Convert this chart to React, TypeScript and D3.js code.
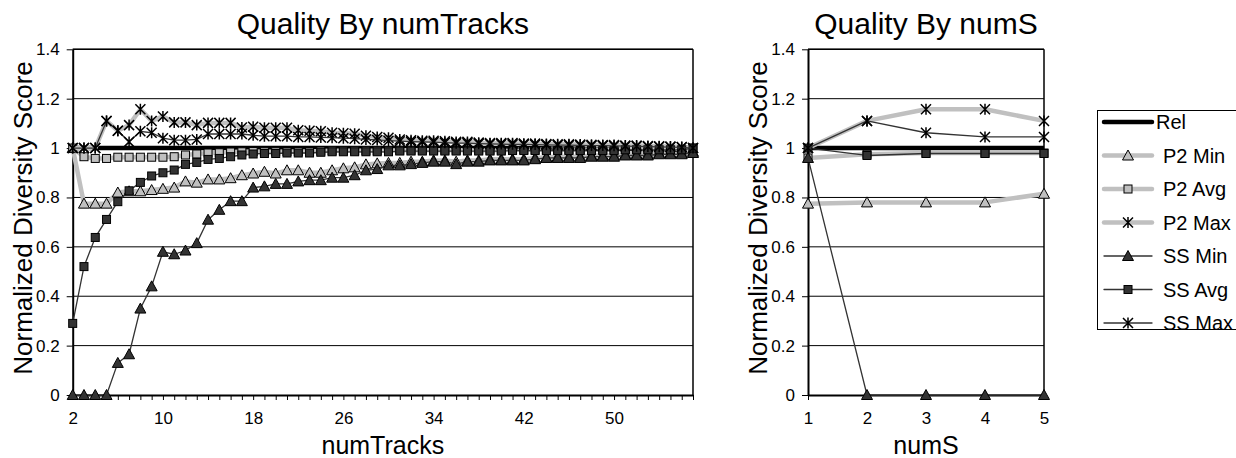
import React, { useEffect, useRef } from 'react';
import * as d3 from 'd3';

// ---- data: left panel (by numTracks) ----
const numTracks = [2, 3, 4, 5, 6, 7, 8, 9, 10, 11, 12, 13, 14, 15, 16, 17, 18, 19, 20, 21, 22, 23, 24, 25, 26, 27, 28, 29,
  30, 31, 32, 33, 34, 35, 36, 37, 38, 39, 40, 41, 42, 43, 44, 45, 46, 47, 48, 49, 50, 51, 52, 53, 54, 55, 56, 57];
const trackTickLabels = [2, 10, 18, 26, 34, 42, 50];

const relTracks = [1, 1, 1, 1, 1, 1, 1, 1, 1, 1, 1, 1, 1, 1, 1, 1, 1, 1, 1, 1, 1, 1, 1, 1, 1, 1, 1, 1,
  1, 1, 1, 1, 1, 1, 1, 1, 1, 1, 1, 1, 1, 1, 1, 1, 1, 1, 1, 1, 1, 1, 1, 1, 1, 1, 1, 1];
const p2MinTracks = [1.0, 0.775, 0.775, 0.775, 0.82, 0.825, 0.825, 0.83, 0.835, 0.84, 0.865, 0.86, 0.873, 0.873,
  0.878, 0.89, 0.897, 0.904, 0.897, 0.91, 0.91, 0.9, 0.9, 0.91, 0.918, 0.922, 0.934, 0.938, 0.94, 0.94, 0.945,
  0.945, 0.95, 0.95, 0.945, 0.95, 0.95, 0.955, 0.955, 0.955, 0.955, 0.96, 0.963, 0.965, 0.965, 0.965, 0.97, 0.97,
  0.97, 0.975, 0.975, 0.975, 0.98, 0.98, 0.98, 0.985];
const p2AvgTracks = [1.0, 0.965, 0.958, 0.958, 0.963, 0.963, 0.963, 0.963, 0.963, 0.965, 0.972, 0.976, 0.98, 0.981,
  0.984, 0.985, 0.986, 0.985, 0.985, 0.986, 0.986, 0.986, 0.988, 0.989, 0.989, 0.989, 0.989, 0.989, 0.989, 0.991,
  0.991, 0.991, 0.991, 0.991, 0.991, 0.991, 0.991, 0.991, 0.991, 0.993, 0.993, 0.993, 0.993, 0.993, 0.993, 0.993,
  0.993, 0.993, 0.993, 0.995, 0.995, 0.995, 0.995, 0.995, 0.995, 1.0];
const p2MaxTracks = [1, 1, 1, 1.11, 1.07, 1.093, 1.157, 1.11, 1.128, 1.104, 1.104, 1.093, 1.102, 1.102, 1.102, 1.083,
  1.086, 1.082, 1.082, 1.082, 1.072, 1.07, 1.068, 1.062, 1.06, 1.058, 1.05, 1.045, 1.042, 1.035, 1.032, 1.03, 1.03,
  1.028, 1.025, 1.025, 1.022, 1.02, 1.02, 1.02, 1.018, 1.018, 1.016, 1.015, 1.015, 1.014, 1.013, 1.012, 1.012, 1.01,
  1.01, 1.008, 1.007, 1.006, 1.004, 1.0];
const ssMinTracks = [0, 0, 0, 0, 0.13, 0.165, 0.35, 0.44, 0.58, 0.57, 0.585, 0.615, 0.71, 0.75, 0.785, 0.785, 0.84,
  0.845, 0.855, 0.855, 0.865, 0.87, 0.87, 0.88, 0.88, 0.89, 0.91, 0.915, 0.93, 0.93, 0.935, 0.94, 0.945, 0.945,
  0.935, 0.945, 0.945, 0.95, 0.95, 0.95, 0.95, 0.955, 0.96, 0.96, 0.96, 0.96, 0.965, 0.965, 0.965, 0.97, 0.97,
  0.97, 0.975, 0.975, 0.975, 0.98];
const ssAvgTracks = [0.29, 0.52, 0.638, 0.711, 0.783, 0.827, 0.861, 0.887, 0.9, 0.911, 0.934, 0.942, 0.954, 0.958,
  0.965, 0.972, 0.976, 0.978, 0.978, 0.98, 0.98, 0.98, 0.983, 0.985, 0.985, 0.985, 0.985, 0.985, 0.985, 0.988,
  0.988, 0.988, 0.988, 0.988, 0.988, 0.988, 0.988, 0.988, 0.988, 0.99, 0.99, 0.99, 0.99, 0.99, 0.99, 0.99, 0.99,
  0.99, 0.99, 0.993, 0.993, 0.993, 0.993, 0.993, 0.993, 1.0];
const ssMaxTracks = [1, 1, 1, 1.11, 1.07, 1.025, 1.068, 1.062, 1.04, 1.032, 1.032, 1.035, 1.057, 1.057, 1.057, 1.057,
  1.052, 1.048, 1.048, 1.048, 1.045, 1.045, 1.043, 1.042, 1.04, 1.038, 1.035, 1.033, 1.03, 1.028, 1.026, 1.025,
  1.024, 1.022, 1.02, 1.02, 1.018, 1.017, 1.016, 1.015, 1.015, 1.014, 1.013, 1.012, 1.012, 1.011, 1.01, 1.01,
  1.009, 1.008, 1.007, 1.006, 1.005, 1.004, 1.003, 1.0];

// ---- data: right panel (by numS) ----
const numS = [1, 2, 3, 4, 5];
const relS = [1, 1, 1, 1, 1];
const p2MinS = [0.775, 0.78, 0.78, 0.78, 0.815];
const p2AvgS = [0.96, 0.975, 0.98, 0.98, 0.98];
const p2MaxS = [1.0, 1.11, 1.157, 1.157, 1.11];
const ssMinS = [0.96, 0, 0, 0, 0];
const ssAvgS = [1.0, 0.97, 0.978, 0.978, 0.978];
const ssMaxS = [1.0, 1.11, 1.062, 1.045, 1.045];

const seriesNames = ['Rel', 'P2 Min', 'P2 Avg', 'P2 Max', 'SS Min', 'SS Avg', 'SS Max'];
const yTicks = [0, 0.2, 0.4, 0.6, 0.8, 1, 1.2, 1.4];
const yTickLabels = ['0', '0.2', '0.4', '0.6', '0.8', '1', '1.2', '1.4'];

type Marker = 'none' | 'triangle' | 'square' | 'star';
const styles: Record<string, { stroke: string; width: number; marker: Marker; fill: string }> = {
  'Rel': { stroke: '#000', width: 4.5, marker: 'none', fill: 'none' },
  'P2 Min': { stroke: '#c0c0c0', width: 4.5, marker: 'triangle', fill: '#c0c0c0' },
  'P2 Avg': { stroke: '#c0c0c0', width: 4.5, marker: 'square', fill: '#c0c0c0' },
  'P2 Max': { stroke: '#c0c0c0', width: 4.5, marker: 'star', fill: 'none' },
  'SS Min': { stroke: '#333', width: 1.3, marker: 'triangle', fill: '#333' },
  'SS Avg': { stroke: '#333', width: 1.3, marker: 'square', fill: '#333' },
  'SS Max': { stroke: '#333', width: 1.3, marker: 'star', fill: 'none' },
};

const FONT = '"Liberation Sans", Arial, sans-serif';

function drawMarker(g: any, type: Marker, cx: number, cy: number, fill: string) {
  if (type === 'triangle') {
    g.append('path')
      .attr('d', `M${cx},${cy - 5.5}L${cx + 5.5},${cy + 4.5}L${cx - 5.5},${cy + 4.5}Z`)
      .attr('fill', fill).attr('stroke', '#000').attr('stroke-width', 1);
  } else if (type === 'square') {
    g.append('rect')
      .attr('x', cx - 4).attr('y', cy - 4).attr('width', 8).attr('height', 8)
      .attr('fill', fill).attr('stroke', '#000').attr('stroke-width', 1);
  } else if (type === 'star') {
    g.append('path')
      .attr('d', `M${cx - 5},${cy - 5}L${cx + 5},${cy + 5}M${cx + 5},${cy - 5}L${cx - 5},${cy + 5}M${cx},${cy - 5.5}L${cx},${cy + 5.5}`)
      .attr('fill', 'none').attr('stroke', '#000').attr('stroke-width', 1.5);
  }
}

interface PanelCfg {
  left: number; right: number; top: number; bottom: number;
  cats: number[]; labels: number[]; values: number[][];
  title: string; xTitle: string;
}

function drawPanel(svg: any, cfg: PanelCfg) {
  const { left, right, top, bottom, cats, labels, values, title, xTitle } = cfg;
  const x = d3.scaleLinear().domain([cats[0], cats[cats.length - 1]]).range([left, right]);
  const y = d3.scaleLinear().domain([0, 1.4]).range([bottom, top]);
  const g = svg.append('g');

  // Grid lines
  g.append('g').selectAll('line').data(yTicks.slice(1)).join('line')
    .attr('x1', left).attr('x2', right)
    .attr('y1', (d: number) => y(d)).attr('y2', (d: number) => y(d))
    .attr('stroke', '#000').attr('stroke-width', 1);
  // frame (top + right)
  g.append('line').attr('x1', right).attr('x2', right).attr('y1', top).attr('y2', bottom)
    .attr('stroke', '#000').attr('stroke-width', 1.5);
  g.append('line').attr('x1', left).attr('x2', right).attr('y1', top).attr('y2', top)
    .attr('stroke', '#000').attr('stroke-width', 1.5);

  // Y axis
  g.append('g')
    .attr('transform', `translate(${left},0)`)
    .call(d3.axisLeft(y).tickValues(yTicks).tickSize(6).tickSizeOuter(0).tickPadding(7)
      .tickFormat((d: any, i: number) => yTickLabels[i]))
    .call((a: any) => a.select('.domain').attr('stroke', '#000').attr('stroke-width', 2))
    .call((a: any) => a.selectAll('.tick line').attr('stroke', '#000'))
    .call((a: any) => a.selectAll('.tick text').attr('fill', '#000')
      .attr('font-size', 17).attr('font-family', FONT));

  // X axis
  g.append('g')
    .attr('transform', `translate(0,${bottom})`)
    .call(d3.axisBottom(x).tickValues(cats).tickSize(5).tickSizeOuter(0).tickPadding(12)
      .tickFormat((d: any) => (labels.includes(d) ? String(d) : '')))
    .call((a: any) => a.select('.domain').attr('stroke', '#000').attr('stroke-width', 2))
    .call((a: any) => a.selectAll('.tick line').attr('stroke', '#000'))
    .call((a: any) => a.selectAll('.tick text').attr('fill', '#000')
      .attr('font-size', 17).attr('font-family', FONT));

  // Series
  const line = d3.line<number>().x((d, i) => x(cats[i])).y(d => y(d));
  seriesNames.forEach((name, si) => {
    const st = styles[name];
    const sg = g.append('g');
    sg.append('path').datum(values[si])
      .attr('fill', 'none').attr('stroke', st.stroke).attr('stroke-width', st.width)
      .attr('stroke-linejoin', 'round').attr('d', line);
    values[si].forEach((v, i) => drawMarker(sg, st.marker, x(cats[i]), y(v), st.fill));
  });

  // Titles
  svg.append('text').attr('x', (left + right) / 2).attr('y', 34).attr('text-anchor', 'middle')
    .attr('font-family', FONT).attr('font-size', 30).text(title);
  svg.append('text').attr('x', (left + right) / 2).attr('y', 454).attr('text-anchor', 'middle')
    .attr('font-family', FONT).attr('font-size', 25).text(xTitle);
  svg.append('text')
    .attr('transform', `translate(${left - 41},218) rotate(-90)`)
    .attr('text-anchor', 'middle').attr('font-family', FONT).attr('font-size', 26)
    .text('Normalized Diversity Score');
}

export default function App() {
  const svgRef = useRef<SVGSVGElement>(null);

  useEffect(() => {
    if (!svgRef.current) return;
    const svg = d3.select(svgRef.current);
    svg.selectAll('*').remove();

    svg.append('rect').attr('width', 1236).attr('height', 458).attr('fill', '#fff');

    drawPanel(svg, {
      left: 72.7, right: 693, top: 49.3, bottom: 395,
      cats: numTracks, labels: trackTickLabels,
      values: [relTracks, p2MinTracks, p2AvgTracks, p2MaxTracks, ssMinTracks, ssAvgTracks, ssMaxTracks],
      title: 'Quality By numTracks', xTitle: 'numTracks',
    });
    drawPanel(svg, {
      left: 808, right: 1044, top: 49.3, bottom: 395,
      cats: numS, labels: numS,
      values: [relS, p2MinS, p2AvgS, p2MaxS, ssMinS, ssAvgS, ssMaxS],
      title: 'Quality By numS', xTitle: 'numS',
    });

    // Legend
    const lg = svg.append('g');
    lg.append('rect').attr('x', 1097.5).attr('y', 110.5).attr('width', 200).attr('height', 219)
      .attr('fill', '#fff').attr('stroke', '#000').attr('stroke-width', 1);
    seriesNames.forEach((name, i) => {
      const st = styles[name];
      const cy = 122 + i * 33.5;
      lg.append('line').attr('x1', 1104).attr('x2', 1152).attr('y1', cy).attr('y2', cy)
        .attr('stroke', st.stroke).attr('stroke-width', st.width).attr('stroke-linecap', 'round');
      drawMarker(lg, st.marker, 1128, cy, st.fill);
      lg.append('text').attr('x', name === 'Rel' ? 1156 : 1163).attr('y', cy).attr('dy', '0.35em')
        .attr('font-family', FONT).attr('font-size', 20).text(name);
    });
  }, []);

  return (
    <svg ref={svgRef} width={1236} height={458}
      style={{ position: 'absolute', left: 0, top: 0, display: 'block' }} />
  );
}
